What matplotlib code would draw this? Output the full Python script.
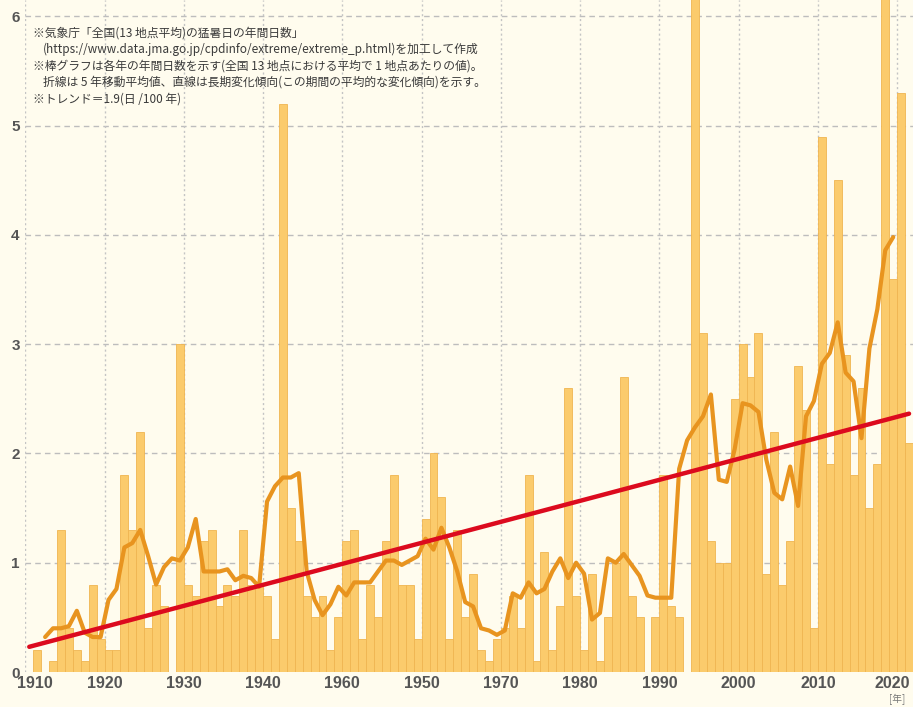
import numpy as np
import pandas as pd
import matplotlib
matplotlib.use("Agg")
import matplotlib.pyplot as plt
import matplotlib.transforms as mtransforms


# -----------------------------
# データ（全国13地点平均の猛暑日の年間日数, 画像から読み取り）
# -----------------------------
years = np.arange(1910, 2022)
days = [
    0.0, 0.2, 0.0, 0.1, 1.3, 0.4, 0.2, 0.1, 0.8, 0.3,   # 1910-1919
    0.2, 0.2, 1.8, 1.3, 2.2, 0.4, 0.8, 0.6, 0.0, 3.0,   # 1920-1929
    0.8, 0.7, 1.2, 1.3, 0.6, 0.8, 0.7, 1.3, 0.8, 0.8,   # 1930-1939
    0.7, 0.3, 5.2, 1.5, 1.2, 0.7, 0.5, 0.7, 0.2, 0.5,   # 1940-1949
    1.2, 1.3, 0.3, 0.8, 0.5, 1.2, 1.8, 0.8, 0.8, 0.3,   # 1950-1959
    1.4, 2.0, 1.6, 0.3, 1.3, 0.5, 0.9, 0.2, 0.1, 0.3,   # 1960-1969
    0.4, 0.7, 0.4, 1.8, 0.1, 1.1, 0.2, 0.6, 2.6, 0.7,   # 1970-1979
    0.2, 0.9, 0.1, 0.5, 1.0, 2.7, 0.7, 0.5, 0.0, 0.5,   # 1980-1989
    1.8, 0.6, 0.5, 0.0, 6.4, 3.1, 1.2, 1.0, 1.0, 2.5,   # 1990-1999
    3.0, 2.7, 3.1, 0.9, 2.2, 0.8, 1.2, 2.8, 2.4, 0.4,   # 2000-2009
    4.9, 1.9, 4.5, 2.9, 1.8, 2.6, 1.5, 1.9, 7.0, 3.6,   # 2010-2019
    5.3, 2.1,                                           # 2020-2021
]

xtick_pos = np.arange(1910, 2021, 10)
xtick_labels = ['1910', '1920', '1930', '1940', '1960', '1950',
                '1970', '1980', '1990', '2000', '2010', '2020']
ytick_pos = np.arange(0, 7)

note_lines = [
    "※気象庁「全国(13 地点平均)の猛暑日の年間日数」",
    "(https://www.data.jma.go.jp/cpdinfo/extreme/extreme_p.html)を加工して作成",
    "※棒グラフは各年の年間日数を示す(全国 13 地点における平均で 1 地点あたりの値)。",
    "折線は 5 年移動平均値、直線は長期変化傾向(この期間の平均的な変化傾向)を示す。",
    "※トレンド＝1.9(日 /100 年)",
]
note_indent = [0, 1, 0, 1, 0]

# -----------------------------
# 計算：5年移動平均と長期トレンド
# -----------------------------
s = pd.Series(days, index=years)
ma5 = s.rolling(5, center=True).mean()
centers = years + 0.5
coef = np.polyfit(centers, s.values, 1)
trend = np.polyval(coef, centers)

# -----------------------------
# 描画
# -----------------------------
BG = '#FFFCEE'
W, H = 913, 707
fig = plt.figure(figsize=(W / 100, H / 100), dpi=100, facecolor=BG)
ax = fig.add_axes([25.3 / W, (H - 672) / H, (W - 25.3) / W, 672 / H])
ax.set_facecolor(BG)

ax.bar(years, days, width=1.0, align='edge', color='#FBCB6C',
       edgecolor='#F0B551', linewidth=0.6, zorder=2)
ax.plot(centers, ma5.values, color='#E8941F', lw=3.0, zorder=3,
        solid_joinstyle='round', solid_capstyle='round')
ax.plot(centers, trend, color='#DC0A1E', lw=3.2, zorder=4,
        solid_capstyle='round')

ax.set_xlim(1910, 2022)
ax.set_ylim(0, 6.15)

# グリッド
for y in ytick_pos[1:]:
    ax.axhline(y, color='#BDBDBD', lw=1.0, ls=(0, (4, 3)), zorder=1)
for x in xtick_pos:
    ax.axvline(x, color='#C4C4C4', lw=1.0, ls=(0, (1.5, 2)), zorder=1)

for sp in ax.spines.values():
    sp.set_visible(False)

tick_font = dict(family='Liberation Sans', weight='bold', color='#555555')
ax.set_xticks(xtick_pos)
ax.set_xticklabels(xtick_labels, fontsize=11.5, **tick_font)
ax.set_yticks(ytick_pos)
ax.set_yticklabels([str(v) for v in ytick_pos], fontsize=11, **tick_font)
ax.tick_params(axis='both', length=0)
ax.tick_params(axis='x', pad=3)
ax.tick_params(axis='y', pad=4)

# 両端のラベルを内側へ少しずらす
labs = ax.get_xticklabels()
for lab, dx in ((labs[0], 10), (labs[-1], -5)):
    lab.set_transform(lab.get_transform() +
                      mtransforms.ScaledTranslation(dx / 100, 0, fig.dpi_scale_trans))

# 注記
cjk = ['Noto Sans CJK JP', 'DejaVu Sans']
for i, (line, ind) in enumerate(zip(note_lines, note_indent)):
    fig.text((33 + 10 * ind) / W, 1 - (33 + 16.5 * i) / H, line,
             fontsize=8.5, family=cjk, color='#3a3a3a', va='center', ha='left')

fig.text(897 / W, 1 - 699 / H, '[年]', fontsize=7, family=cjk,
         color='#777777', ha='center', va='center')

fig.savefig('out.png', dpi=100, facecolor=BG)
